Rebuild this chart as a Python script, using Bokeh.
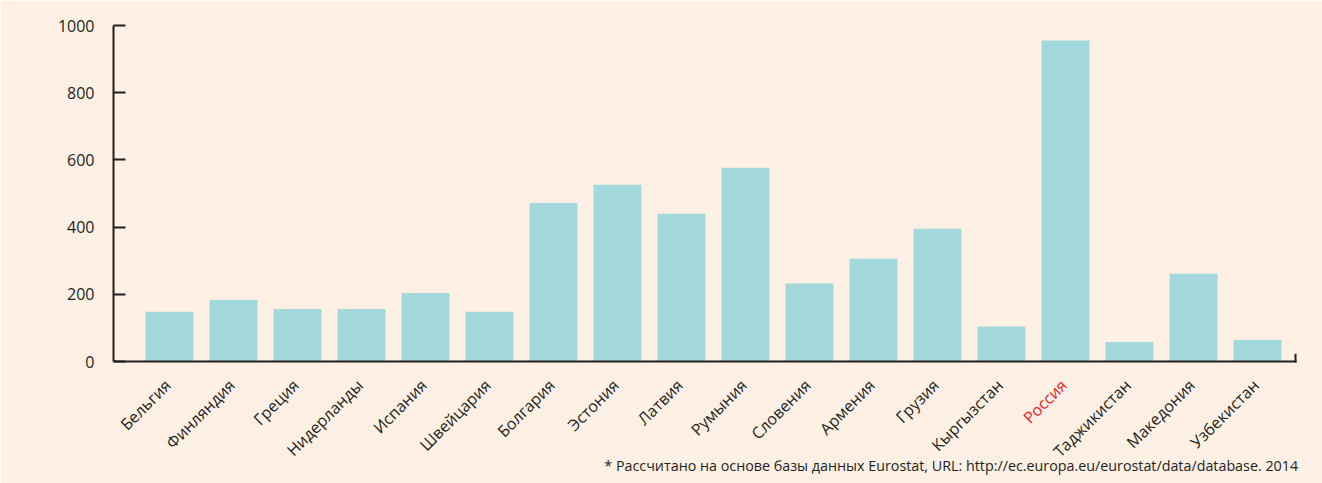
import math
from bokeh.plotting import figure
from bokeh.models import Range1d, FixedTicker, LabelSet, Label, ColumnDataSource
from bokeh.core.properties import value
from bokeh.embed import file_html
from bokeh.resources import INLINE

categories = ["Бельгия", "Финляндия", "Греция", "Нидерланды", "Испания", "Швейцария",
              "Болгария", "Эстония", "Латвия", "Румыния", "Словения", "Армения",
              "Грузия", "Кыргызстан", "Россия", "Таджикистан", "Македония", "Узбекистан"]
values = [148, 183, 156, 156, 204, 148, 472, 526, 440, 577, 232, 306, 395, 104, 955, 58, 261, 64]
highlight = "Россия"
y_ticks = [0, 200, 400, 600, 800, 1000]
footnote = "* Рассчитано на основе базы данных Eurostat, URL: http://ec.europa.eu/eurostat/data/database. 2014"

BG = "#fef0e4"
BAR = "#a3d9dc"
INK = "#231f20"
RED = "#ed1c24"
FONT = "Open Sans"

W, H = 1322, 483
LEFT, TOP = 113, 25
PX_PER_CAT = 64.0
PX_PER_UNIT = 0.336

xs = list(range(len(categories)))
x_start = -0.875
x_end = x_start + (W - LEFT) / PX_PER_CAT
y_end = 1000
y_start = y_end - (H - TOP) / PX_PER_UNIT
axis_end = 17.594

p = figure(width=W, height=H,
           x_range=Range1d(x_start, x_end),
           y_range=Range1d(y_start, y_end),
           x_axis_location=None,
           output_backend="svg", toolbar_location=None,
           min_border_left=LEFT, min_border_right=0,
           min_border_top=TOP, min_border_bottom=0)
p.background_fill_color = BG
p.border_fill_color = BG
p.outline_line_color = None
p.grid.visible = False

src = ColumnDataSource(dict(x=xs, top=values))
p.vbar(x="x", top="top", width=0.75, bottom=0, source=src, fill_color=BAR, line_color=None)

# y axis
ya = p.yaxis[0]
ya.bounds = (0, 1000)
ya.ticker = FixedTicker(ticks=y_ticks)
ya.axis_line_width = 2
ya.axis_line_color = INK
ya.major_tick_line_width = 2
ya.major_tick_line_color = INK
ya.major_tick_in = 12
ya.major_tick_out = 0
ya.minor_tick_line_color = None
ya.major_label_standoff = 19
ya.major_label_text_font = FONT
ya.major_label_text_font_size = "16px"
ya.major_label_text_color = INK
ya.major_label_text_baseline = "top"

# x axis line with end mark
p.segment(x0=[x_start, axis_end], y0=[0, 0], x1=[axis_end, axis_end], y1=[0, 20],
          line_width=2, line_color=INK, line_cap="square")

colors = [RED if c == highlight else INK for c in categories]
lsrc = ColumnDataSource(dict(x=[i - 0.025 for i in xs], y=[-62] * len(xs), text=categories, color=colors))
labels = LabelSet(x="x", y="y", text="text", source=lsrc, angle=math.pi / 4,
                  text_align="right", text_baseline="middle", text_color="color",
                  text_font=value(FONT), text_font_size=value("16px"))
p.add_layout(labels)

note = Label(x=axis_end + 0.04, y=-311, text=footnote, text_align="right",
             text_baseline="middle", text_font=FONT, text_font_size="14.3px", text_color=INK)
p.add_layout(note)

open("out.html", "w").write(file_html(p, INLINE))
